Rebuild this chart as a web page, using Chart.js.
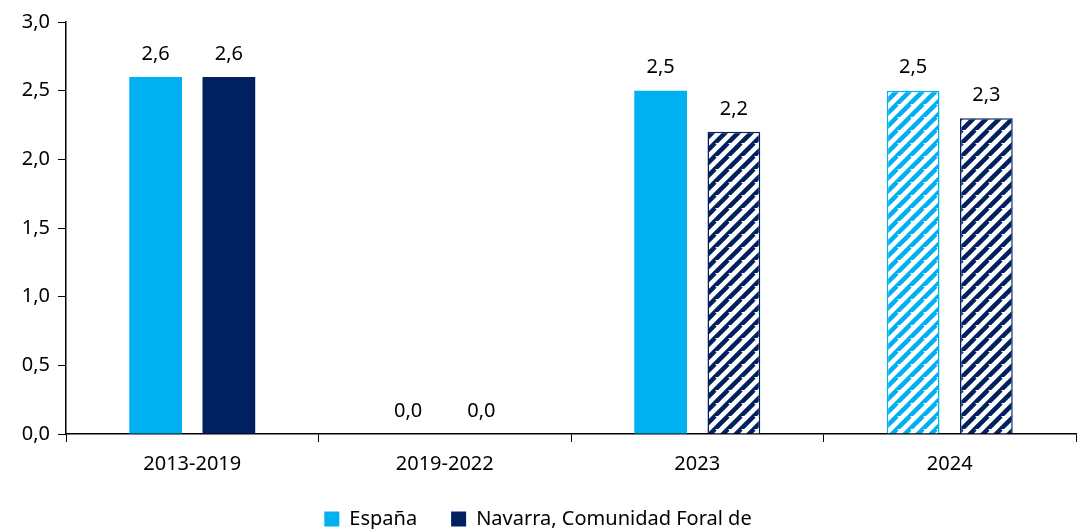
<!DOCTYPE html>
<html lang="es">
<head>
<meta charset="UTF-8">
<title>España vs Navarra</title>
<script src="https://cdn.jsdelivr.net/npm/chart.js"></script>
<style>
  html, body { margin: 0; padding: 0; background: #fff; }
  #wrap { width: 1078px; height: 529px; }
</style>
</head>
<body>
<div id="wrap"><canvas id="grafico"></canvas></div>
<script>
// datos
const categorias = ['2013-2019', '2019-2022', '2023', '2024'];
const espana = [2.6, 0.0, 2.5, 2.5];
const navarra = [2.6, 0.0, 2.2, 2.3];
const rayadoEspana = [false, false, false, true];
const rayadoNavarra = [false, false, true, true];
const ticksY = [0, 0.5, 1, 1.5, 2, 2.5, 3];

const azul = '#00B0F0';
const marino = '#002060';
const fuente = 'Noto Sans';

function rayado(color) {
    const n = 13;
    const c = document.createElement('canvas');
    c.width = n; c.height = n;
    const g = c.getContext('2d');
    g.fillStyle = '#fff';
    g.fillRect(0, 0, n, n);
    g.strokeStyle = color;
    g.lineWidth = 4.5;
    g.beginPath();
    for (let k = -n; k <= 2 * n; k += n) {
        g.moveTo(k - n, 2 * n);
        g.lineTo(k + n, 0);
    }
    g.stroke();
    return g.createPattern(c, 'repeat');
}

const ctx = document.getElementById('grafico').getContext('2d');
const patAzul = rayado(azul);
const patMarino = rayado(marino);

const fmt = v => v.toFixed(1).replace('.', ',');

const etiquetas = {
    id: 'etiquetas',
    afterDatasetsDraw(chart) {
        const c = chart.ctx;
        c.save();
        c.font = '20px "' + fuente + '"';
        c.fillStyle = '#000';
        c.textAlign = 'center';
        c.textBaseline = 'bottom';
        chart.data.datasets.forEach((ds, i) => {
            chart.getDatasetMeta(i).data.forEach((bar, j) => {
                c.fillText(fmt(ds.data[j]), bar.x, bar.y - 13);
            });
        });
        c.restore();
    }
};

new Chart(ctx, {
    type: 'bar',
    data: {
        labels: categorias,
        datasets: [{
            label: 'España',
            data: espana,
            backgroundColor: rayadoEspana.map(r => r ? patAzul : azul),
            borderColor: azul,
            borderWidth: rayadoEspana.map(r => r ? 1.5 : 0),
            categoryPercentage: 0.58,
            barPercentage: 0.72
        }, {
            label: 'Navarra, Comunidad Foral de',
            data: navarra,
            backgroundColor: rayadoNavarra.map(r => r ? patMarino : marino),
            borderColor: marino,
            borderWidth: rayadoNavarra.map(r => r ? 1.5 : 0),
            categoryPercentage: 0.58,
            barPercentage: 0.72
        }]
    },
    options: {
        responsive: true,
        maintainAspectRatio: false,
        animation: false,
        layout: { padding: { top: 22, right: 2, left: 0, bottom: -10 } },
        plugins: {
            tooltip: { enabled: false },
            legend: {
                position: 'bottom',
                labels: {
                    font: { family: fuente, size: 20 },
                    color: '#000',
                    boxWidth: 15,
                    boxHeight: 15,
                    padding: 34,
                    generateLabels: chart => chart.data.datasets.map((ds, i) => ({
                        text: ds.label,
                        fillStyle: i === 0 ? azul : marino,
                        strokeStyle: i === 0 ? azul : marino,
                        lineWidth: 0,
                        datasetIndex: i
                    }))
                }
            }
        },
        scales: {
            x: {
                grid: { drawOnChartArea: false, color: '#000', tickLength: 8, offset: true },
                border: { color: '#000', width: 1.5 },
                ticks: { color: '#000', font: { family: fuente, size: 20 }, padding: 10 },
                afterFit: s => { s.height = 41; }
            },
            y: {
                min: 0, max: 3,
                afterBuildTicks: s => { s.ticks = ticksY.map(v => ({ value: v })); },
                grid: { drawOnChartArea: false, color: '#000', tickLength: 8 },
                border: { color: '#000', width: 1.5 },
                ticks: { color: '#000', font: { family: fuente, size: 20 }, padding: 8, callback: v => fmt(v) },
                afterFit: s => { s.width = 66; }
            }
        }
    },
    plugins: [etiquetas]
});
</script>
</body>
</html>
